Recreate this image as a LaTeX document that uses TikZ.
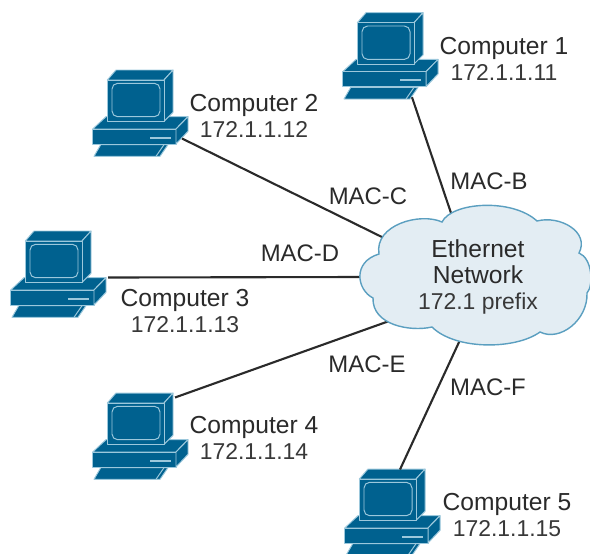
\documentclass[tikz,border=0pt]{standalone}
\usepackage{fontspec}
\setmainfont{Liberation Sans}
\usetikzlibrary{calc}
\definecolor{hostblue}{HTML}{00618F}
\definecolor{hostedge}{HTML}{9CC8DC}
\definecolor{cloudfill}{HTML}{E3EDF3}
\definecolor{cloudedge}{HTML}{5B9FC0}
\definecolor{inktext}{HTML}{2A2A2A}
\definecolor{softtext}{HTML}{383838}
\newcommand{\ipfont}{\fontsize{16.3}{18.5}\selectfont\color{softtext}}
\tikzset{
    computer/.pic={
        \tikzset{every path/.style={fill=hostblue,draw=hostedge,line width=0.7pt,line join=round}}
        % keyboard
        \path (8.7,74.7) -- (76,74.7) -- (68,86.3) -- (2,86.3) -- cycle;
        \path[fill=none] (72,74.7) -- (64,86.3);
        % base
        \path (14,46.7) -- (96,46.7) -- (84,59) -- (0.7,59) -- cycle;
        \path (0.7,59) rectangle (84,74);
        \path (84,59) -- (96,46.7) -- (96,61.3) -- (84,74) -- cycle;
        \path[fill=hostedge,draw=none] (58,66.7) rectangle (79,68.5);
        % monitor
        \path (15.3,10) -- (24,0) -- (81,0) -- (72,10) -- cycle;
        \path (72,10) -- (81,0) -- (81,42.3) -- (72,51.3) -- cycle;
        \path (15.3,10) rectangle (72,51.3);
        \path[rounded corners=4pt] (20,13.3) rectangle (68,46.7);
        \node[minimum width=2.4cm,minimum height=2.175cm,inner sep=0pt,fill=none,draw=none] (-box) at (48,43.5) {};
    }
}
\begin{document}
\begin{tikzpicture}[x=0.025cm,y=-0.025cm]
    \tikzstyle{host label}=[align=center,font=\fontsize{17.5}{18.5}\selectfont,text=inktext]
    \tikzstyle{mac label}=[font=\fontsize{17}{18}\selectfont,text=inktext]
    \tikzstyle{link}=[draw=inktext,line width=1.5pt]
    \useasboundingbox (0,0) rectangle (590,553);

    % Draw the computers with their labels
    \foreach \n/\ix/\iy/\tx/\ty in {1/342/12.7/504/59,2/92/70/254/116,3/10/231/185/311,4/92/393/254/437.5,5/344/469/507/515}{
        \pic (C-\n) at (\ix,\iy) {computer};
        \node[host label] (L-\n) at (\tx,\ty) {Computer \n\\{\ipfont 172.1.1.1\n}};
    }

    % Where the links meet the cloud
    \coordinate (net-b) at (452,216);
    \coordinate (net-c) at (388,240);
    \coordinate (net-d) at (362,277);
    \coordinate (net-e) at (392,320);
    \coordinate (net-f) at (460,340);

    % Connect every computer with the cloud
    \draw[link] ([shift={(22,-3)}]C-1-box.south) -- (net-b);
    \draw[link] ([shift={(42,-19)}]C-2-box.south) -- (net-c);
    \draw[link] ([shift={(50,3)}]C-3-box.center) -- (net-d);
    \draw[link] ([shift={(35,-39)}]C-4-box.center) -- (net-e);
    \draw[link] ([shift={(8,-43)}]C-5-box.center) -- (net-f);

    % Draw the cloud
    \path[fill=cloudfill,draw=cloudedge,line width=1pt]
        (379,254) .. controls (374,225) and (420,212) .. (442,222)
        .. controls (452,202) and (512,198) .. (537,221)
        .. controls (560,215) and (590,232) .. (579,253)
        .. controls (592,258) and (594,285) .. (587,293)
        .. controls (588,320) and (560,342) .. (540,332)
        .. controls (515,350) and (455,350) .. (432,327)
        .. controls (410,332) and (372,325) .. (373,298)
        .. controls (357,290) and (352,262) .. (379,254) -- cycle;
    \node[host label] (net) at (478,277) {Ethernet\\Network\\{\ipfont 172.1 prefix}};

    % Draw the link labels
    \node[mac label] (mac-b) at (489,181) {MAC-B};
    \node[mac label] (mac-c) at (368,196) {MAC-C};
    \node[mac label] (mac-d) at (300,253) {MAC-D};
    \node[mac label] (mac-e) at (367,364) {MAC-E};
    \node[mac label] (mac-f) at (488,387) {MAC-F};
\end{tikzpicture}
\end{document}
